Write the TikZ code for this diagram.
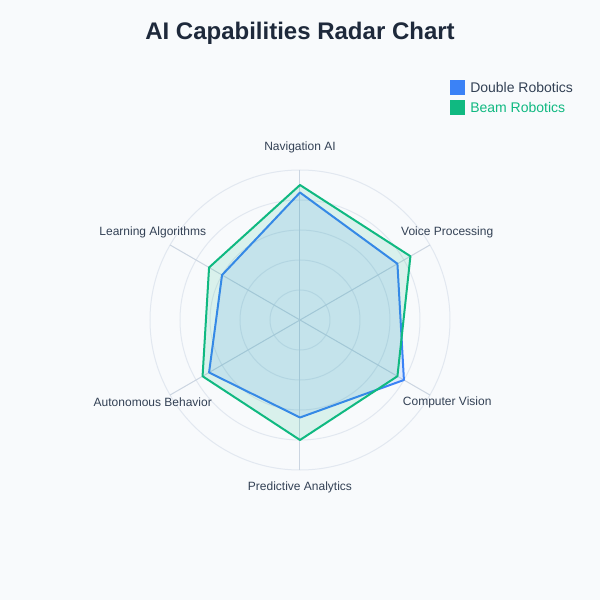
\documentclass[tikz,border=0pt]{standalone}
\usepackage{fontspec}
\setmainfont{Liberation Sans}
\usetikzlibrary{calc}
\definecolor{bgcol}{HTML}{F8FAFC}
\definecolor{titlecol}{HTML}{1E293B}
\definecolor{labelcol}{HTML}{334155}
\definecolor{gridcol}{HTML}{E2E8F0}
\definecolor{axiscol}{HTML}{CBD5E1}
\definecolor{doublecol}{HTML}{3B82F6}
\definecolor{beamcol}{HTML}{10B981}
\tikzset{
  axislabel/.style={text=labelcol, font=\fontsize{9}{11}\selectfont, inner sep=0pt},
  legendbox/.style={minimum size=11.25pt, inner sep=0pt},
  legendtext/.style={font=\fontsize{10.5}{12}\selectfont, anchor=west, inner sep=0pt}
}
\begin{document}
\begin{tikzpicture}[x=0.75pt, y=0.75pt]
        \fill[bgcol] (-300,-280) rectangle (300,320);
        \useasboundingbox (-300,-280) rectangle (300,320);
        \node[font=\fontsize{18}{22}\selectfont\bfseries, text=titlecol] (title) at (0,287) {AI Capabilities Radar Chart};
        % grid
        \foreach \r in {30,60,90,120,150}
            \draw[gridcol, line width=0.75pt] (0,0) circle (\r);
        \coordinate (center) at (0,0);
        \foreach \a/\n in {90/nav,30/voice,-30/vision,-90/pred,-150/auto,150/learn}
            \draw[axiscol, line width=0.75pt] (center) -- (\a:150) coordinate (\n);
        % data
        \draw[doublecol, line width=1.5pt, fill=doublecol, fill opacity=0.13, line join=round]
            (90:127.5) -- (30:112.5) -- (-30:120) -- (-90:97.5) -- (-150:105) -- (150:90) -- cycle;
        \draw[beamcol, line width=1.5pt, fill=beamcol, fill opacity=0.13, line join=round]
            (90:135) -- (30:127.5) -- (-30:112.5) -- (-90:120) -- (-150:112.5) -- (150:105) -- cycle;
        % labels
        \node[axislabel] (navlabel) at (90:173) {Navigation AI};
        \node[axislabel] (voicelabel) at ($(30:170)+(0,3)$) {Voice Processing};
        \node[axislabel] (visionlabel) at ($(-30:170)+(0,3)$) {Computer Vision};
        \node[axislabel] (predlabel) at (-90:167) {Predictive Analytics};
        \node[axislabel] (autolabel) at ($(-150:170)+(0,3)$) {Autonomous Behavior};
        \node[axislabel] (learnlabel) at ($(150:170)+(0,3)$) {Learning Algorithms};
        % legend
        \node[legendbox, fill=doublecol] (doublebox) at (157.5,232.5) {};
        \node[legendtext, text=labelcol] (doubletext) at (170,232.5) {Double Robotics};
        \node[legendbox, fill=beamcol] (beambox) at (157.5,212.5) {};
        \node[legendtext, text=beamcol] (beamtext) at (170,212.5) {Beam Robotics};
    \end{tikzpicture}
\end{document}
